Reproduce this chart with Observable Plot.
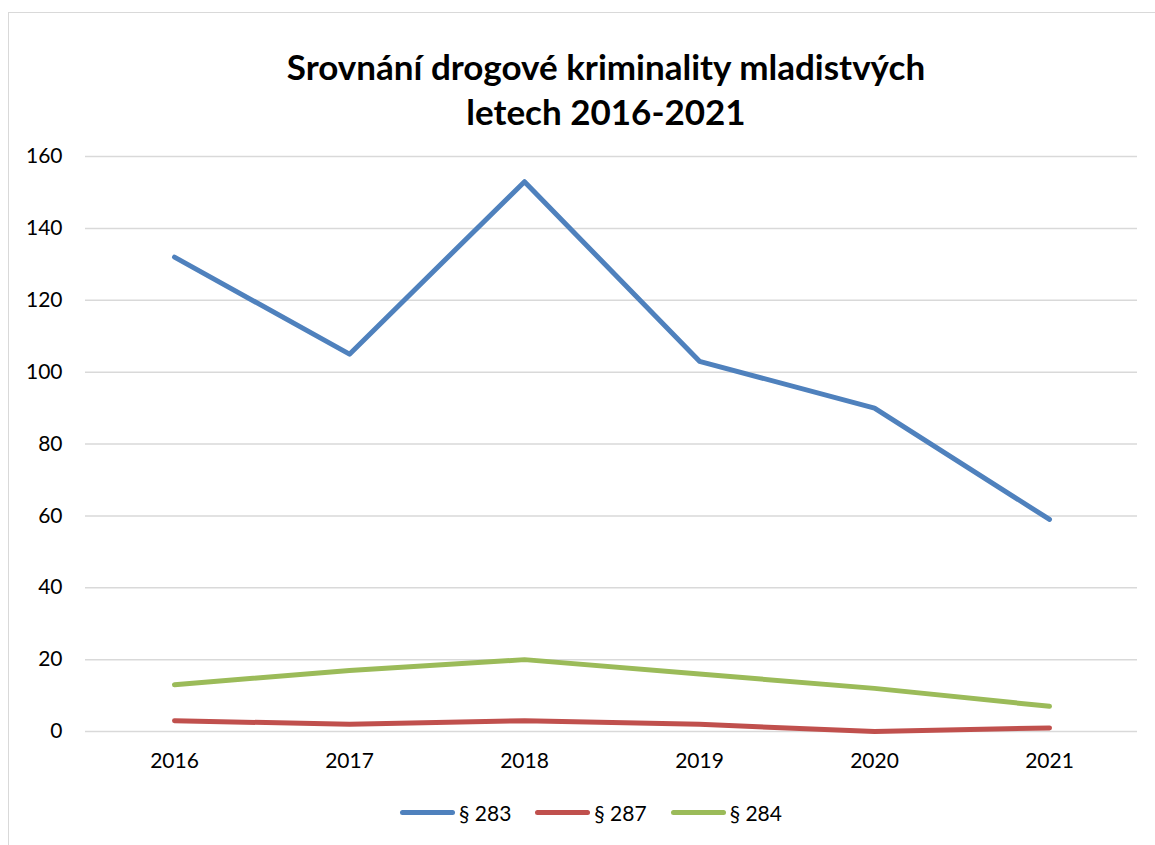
<!DOCTYPE html>
<html>
<head>
<meta charset="utf-8">
<script src="https://cdn.jsdelivr.net/npm/d3@7"></script>
<script src="https://cdn.jsdelivr.net/npm/@observablehq/plot@0.6"></script>
<style>
  html, body { margin: 0; padding: 0; background: #fff; }
  body { width: 1155px; height: 845px; position: relative; overflow: hidden; font-family: Lato, "Open Sans", sans-serif; }
  #frame { position: absolute; left: 8px; top: 12px; width: 1200px; height: 900px; border-left: 1.5px solid #d9d9d9; border-top: 1.5px solid #d9d9d9; }
  #title { position: absolute; left: 0; top: 44px; width: 1212px; text-align: center; font-weight: bold; font-size: 35px; line-height: 45px; color: #000; }
  #chart { position: absolute; left: 0; top: 0; }
  #legend { position: absolute; left: 400px; top: 800px; display: flex; align-items: center; font-size: 21px; color: #000; }
  .item { display: flex; align-items: center; margin-right: 24px; }
  .sw { width: 55px; height: 5px; border-radius: 3px; margin-right: 4px; }
</style>
</head>
<body>
<div id="frame"></div>
<div id="title">Srovnání drogové kriminality mladistvých<br>letech 2016-2021</div>
<div id="chart"></div>
<div id="legend"></div>
<script>
const years = ["2016", "2017", "2018", "2019", "2020", "2021"];
const s283 = [132, 105, 153, 103, 90, 59];
const s287 = [3, 2, 3, 2, 0, 1];
const s284 = [13, 17, 20, 16, 12, 7];
const seriesNames = ["§ 283", "§ 287", "§ 284"];
const seriesColors = ["#4F81BD", "#C0504D", "#9BBB59"];
const yTicks = [0, 20, 40, 60, 80, 100, 120, 140, 160];

const seriesValues = [s283, s287, s284];
const data = [];
seriesNames.forEach((name, si) => {
  years.forEach((yr, i) => data.push({series: name, year: yr, value: seriesValues[si][i]}));
});

const plot = Plot.plot({
  width: 1155,
  height: 790,
  marginTop: 156,
  marginBottom: 59,
  marginLeft: 85,
  marginRight: 18,
  style: {fontFamily: "Lato, 'Open Sans', sans-serif", fontSize: "21px", color: "#000", background: "transparent"},
  x: {type: "point", domain: years, padding: 0.5, label: null},
  y: {domain: [0, 160], ticks: yTicks, label: null},
  color: {domain: seriesNames, range: seriesColors},
  marks: [
    Plot.ruleY(yTicks, {stroke: "#d9d9d9", strokeWidth: 1.5, strokeOpacity: 1}),
    Plot.axisY({ticks: yTicks, tickSize: 0, tickPadding: 23, label: null, fontSize: 21}),
    Plot.axisX({tickSize: 0, tickPadding: 22, label: null, fontSize: 21}),
    Plot.line(data, {x: "year", y: "value", z: "series", stroke: "series", strokeWidth: 5, strokeLinecap: "round", strokeLinejoin: "round"})
  ]
});
document.getElementById("chart").appendChild(plot);

const legend = document.getElementById("legend");
seriesNames.forEach((name, i) => {
  const item = document.createElement("div");
  item.className = "item";
  const sw = document.createElement("div");
  sw.className = "sw";
  sw.style.background = seriesColors[i];
  const lab = document.createElement("span");
  lab.textContent = name;
  item.appendChild(sw);
  item.appendChild(lab);
  legend.appendChild(item);
});
</script>
</body>
</html>
